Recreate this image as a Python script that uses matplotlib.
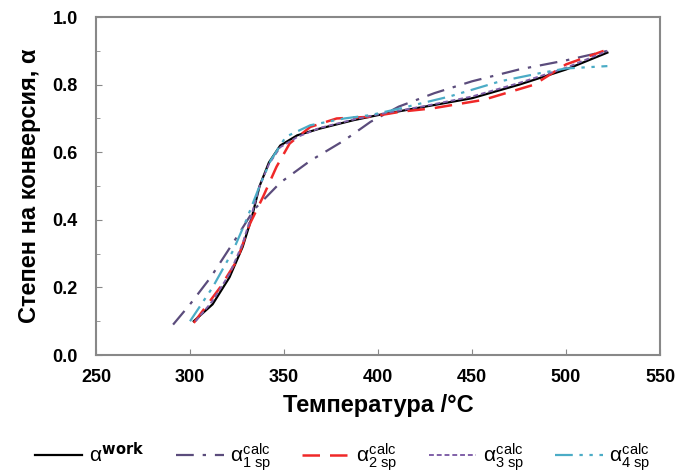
import matplotlib.pyplot as plt
from matplotlib.ticker import MultipleLocator

plt.rcParams['font.family'] = ['Liberation Sans', 'DejaVu Sans']
plt.rcParams['mathtext.fontset'] = 'custom'
plt.rcParams['mathtext.rm'] = 'Liberation Sans'
plt.rcParams['mathtext.it'] = 'Liberation Sans'

# --- DATA ---
t_work = [302, 312, 321, 328, 333, 337, 342, 348, 357, 369, 387, 400, 425, 450, 475, 500, 522]
a_work = [0.10, 0.15, 0.23, 0.32, 0.41, 0.50, 0.57, 0.62, 0.65, 0.67, 0.695, 0.71, 0.735, 0.76, 0.80, 0.845, 0.895]

t_1sp = [291, 300, 311, 325, 334, 348, 364, 382, 396, 411, 430, 450, 475, 500, 522]
a_1sp = [0.09, 0.15, 0.23, 0.35, 0.43, 0.51, 0.575, 0.635, 0.69, 0.735, 0.775, 0.81, 0.845, 0.872, 0.90]

t_2sp = [302, 304, 316, 325, 332, 339, 346, 353, 364, 378, 396, 412, 429, 456, 483, 500, 520]
a_2sp = [0.095, 0.11, 0.20, 0.28, 0.39, 0.47, 0.557, 0.626, 0.675, 0.70, 0.705, 0.72, 0.73, 0.755, 0.80, 0.86, 0.90]

t_3sp = [303, 312, 321, 328, 333, 337, 342, 348, 357, 369, 387, 400, 425, 450, 475, 500, 522]
a_3sp = [0.10, 0.16, 0.24, 0.33, 0.42, 0.50, 0.565, 0.615, 0.645, 0.672, 0.697, 0.712, 0.737, 0.765, 0.805, 0.85, 0.90]

t_4sp = [300, 312, 323, 330, 337, 343, 351, 364, 382, 396, 412, 438, 465, 486, 500, 522]
a_4sp = [0.10, 0.20, 0.31, 0.40, 0.50, 0.577, 0.646, 0.68, 0.70, 0.71, 0.73, 0.765, 0.81, 0.834, 0.848, 0.855]

labels = [r'$\alpha^{\mathbf{work}}$',
          r'$\alpha^{calc}_{1\ sp}$',
          r'$\alpha^{calc}_{2\ sp}$',
          r'$\alpha^{calc}_{3\ sp}$',
          r'$\alpha^{calc}_{4\ sp}$']

# --- PLOT ---
fig = plt.figure(figsize=(6.78, 4.75), dpi=100)
ax = fig.add_axes([0.1416, 0.2526, 0.8319, 0.7114])

ax.plot(t_work, a_work, color='black', lw=1.6, ls='-', label=labels[0])
ax.plot(t_1sp, a_1sp, color='#5b4c7c', lw=1.6, ls=(0, (8, 4, 1.5, 4)), label=labels[1])
ax.plot(t_2sp, a_2sp, color='#f02828', lw=1.8, ls=(0, (7, 4)), label=labels[2])
ax.plot(t_3sp, a_3sp, color='#8060a8', lw=1.4, ls=(0, (2.5, 1.5)), label=labels[3])
ax.plot(t_4sp, a_4sp, color='#4bacc6', lw=1.6, ls=(0, (8, 3, 1.5, 3, 1.5, 3)), label=labels[4])

ax.set_xlim(250, 550)
ax.set_ylim(0, 1.0)
ax.xaxis.set_major_locator(MultipleLocator(50))
ax.yaxis.set_major_locator(MultipleLocator(0.2))
ax.yaxis.set_minor_locator(MultipleLocator(0.1))
ax.yaxis.set_major_formatter(plt.FuncFormatter(lambda v, p: f'{v:.1f}'))
ax.tick_params(direction='in', length=4, color='#888888', labelsize=13)
ax.tick_params(axis='y', pad=13)
ax.tick_params(axis='x', pad=10)
ax.tick_params(which='minor', direction='in', length=3, color='#888888')
for lab in ax.get_xticklabels() + ax.get_yticklabels():
    lab.set_fontweight('bold')
for s in ax.spines.values():
    s.set_color('#888888')
    s.set_linewidth(1.5)

ax.set_xlabel('Температура /°C', fontsize=17, fontweight='bold', labelpad=6)
ax.set_ylabel('Степен на конверсия, α', fontsize=17, fontweight='bold', labelpad=8)

fig.legend(loc='lower center', bbox_to_anchor=(0.505, -0.035), ncol=5, frameon=False,
           fontsize=15, handlelength=2.3, columnspacing=1.5, handletextpad=0.3)

fig.savefig('out.png', dpi=100)
